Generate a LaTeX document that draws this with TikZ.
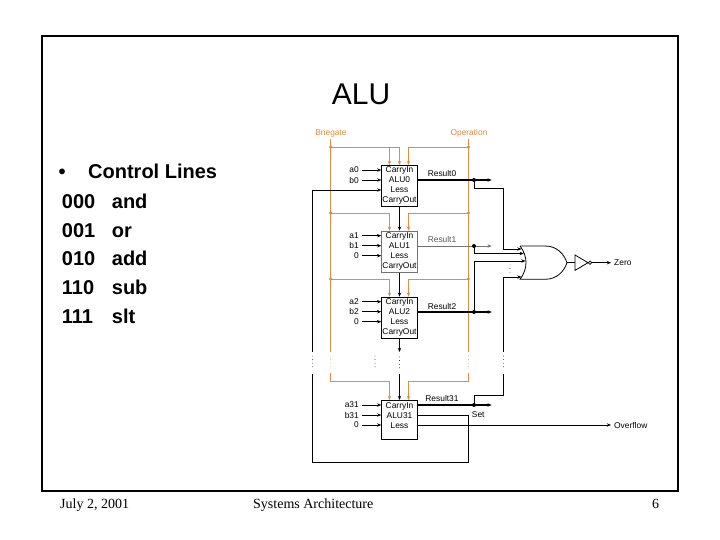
\documentclass[tikz,border=0pt]{standalone}
\usepackage{fontspec}
\setmainfont{Liberation Sans}
\newfontfamily\seriffont{Liberation Serif}
\usetikzlibrary{arrows.meta}
\definecolor{ctrl}{RGB}{222,142,62}
\begin{document}
\begin{tikzpicture}[x=1pt,y=-1pt,
  lbl/.style={font=\fontsize{8.4}{10}\selectfont, inner sep=0pt},
  ctl/.style={draw=ctrl, line width=0.8pt},
  wire/.style={line width=0.75pt},
  rwire/.style={line width=1.1pt},
  arr/.style={-{Stealth[length=4.2pt,width=3.4pt]}},
  alubox/.style={draw, line width=0.9pt, minimum width=35.6pt, minimum height=41pt, inner sep=0pt, anchor=north},
  jdot/.style={circle, fill=black, draw=none, inner sep=0pt, minimum size=4pt},
  dts/.style={line width=0.9pt, dash pattern=on 0pt off 3.6pt, line cap=round},
  big/.style={font=\fontsize{20}{24}\selectfont\bfseries, inner sep=0pt, anchor=base west},
  foot/.style={font=\seriffont\fontsize{14}{14}\selectfont, inner sep=0pt, anchor=base west}]
\useasboundingbox (0,0) rectangle (720,540);
\fill[white] (0,0) rectangle (720,540);
\draw[line width=2.3pt] (41.7,36) rectangle (678,491);

% title and text
\node[font=\fontsize{30}{30}\selectfont, anchor=base, inner sep=0pt] (title) at (361,105) {ALU};
\node[big] (bul) at (58.5,178.3) {•};
\node[big] (cl) at (88,178.3) {Control Lines};
\foreach \i/\c/\o in {0/000/and,1/001/or,2/010/add,3/110/sub,4/111/slt}{
  \node[big] (code\i) at (61.7,208.3+28.7*\i) {\c};
  \node[big] (op\i) at (111.7,208.3+28.7*\i) {\o};
}

% footer
\node[foot] (date) at (60,508) {July 2, 2001};
\node[foot] (course) at (253,508) {Systems Architecture};
\node[foot] (page) at (652,508) {6};

% ALU boxes
\node[alubox] (alu0) at (399.5,165) {};
\node[alubox, draw=black!55] (alu1) at (399.5,230.7) {};
\node[alubox] (alu2) at (399.5,296.7) {};
\node[alubox, minimum height=39.3pt] (alu31) at (399.5,400) {};
\foreach \b/\t/\nm in {alu0/165/ALU0,alu1/230.7/ALU1,alu2/296.7/ALU2,alu31/400/ALU31}{
  \node[lbl,anchor=base] (\b-l1) at (399.5,\t+8) {CarryIn};
  \node[lbl,anchor=base] (\b-l2) at (399.5,\t+18) {\nm};
  \node[lbl,anchor=base] (\b-l3) at (399.5,\t+28) {Less};
}
\foreach \b/\t in {alu0/165,alu1/230.7,alu2/296.7}{
  \node[lbl,anchor=base] (\b-l4) at (399.5,\t+38) {CarryOut};
}

% inputs
\foreach \b/\t/\la/\lb in {alu0/165/a0/b0,alu1/230.7/a1/b1,alu2/296.7/a2/b2,alu31/400/a31/b31}{
  \node[lbl,anchor=east] (\b-ia) at (359,\t+5) {\la};
  \node[lbl,anchor=east] (\b-ib) at (359,\t+15) {\lb};
  \draw[wire,arr] ([xshift=2.7pt]\b-ia.east) -- (\b-ia.east -| \b.west);
  \draw[wire,arr] ([xshift=2.7pt]\b-ib.east) -- (\b-ib.east -| \b.west);
}
\foreach \b/\t in {alu1/230.7,alu2/296.7,alu31/400}{
  \node[lbl,anchor=east] (\b-ic) at (359,\t+25) {0};
  \draw[wire,arr] ([xshift=2.7pt]\b-ic.east) -- (\b-ic.east -| \b.west);
}

% control lines (orange)
\node[lbl, text=ctrl, anchor=base] (bneg) at (331,136) {Bnegate};
\node[lbl, text=ctrl, anchor=base] (oper) at (469,136) {Operation};
\draw[ctl] (330.7,139) -- (330.7,352);
\draw[ctl] (468.3,139) -- (468.3,352);
\draw[ctl,arr] (330.7,147) -- (399.5,147) -- (alu0.north);
\draw[ctl,arr] (389.5,147) -- (389.5,165);
\draw[ctl,arr] (468.3,147) -- (408.5,147) -- (408.5,165);
\draw[ctl,arr] (330.7,213) -- (389.5,213) -- (389.5,230.7);
\draw[ctl,arr] (468.3,213) -- (408.5,213) -- (408.5,230.7);
\draw[ctl,arr] (330.7,279) -- (389.5,279) -- (389.5,296.7);
\draw[ctl,arr] (468.3,279) -- (408.5,279) -- (408.5,296.7);
\draw[ctl,arr] (330.7,373) -- (330.7,381.7) -- (389.5,381.7) -- (389.5,400);
\draw[ctl,arr] (468.3,373) -- (468.3,381.7) -- (408.5,381.7) -- (408.5,400);
\draw[dts,ctrl] (330.7,356) -- (330.7,370);
\draw[dts,ctrl] (468.3,356) -- (468.3,370);
\foreach \x in {330.7,468.3}{
  \foreach \y in {147,213,279}{
    \fill[ctrl] (\x,\y) circle (1.8);
  }
}

% carry chain
\draw[wire,arr] (alu0.south) -- (alu1.north);
\draw[wire,arr] (alu1.south) -- (alu2.north);
\draw[wire,arr] (alu2.south) -- (399.5,352);
\draw[dts] (399.5,357) -- (399.5,370);
\draw[wire,arr] (399.5,374) -- (alu31.north);
\draw[dts] (375,356) -- (375,370);

% Less / Set loop
\draw[wire,arr] (312.7,352) -- (312.7,190) -- (alu0.west |- 0,190);
\draw[dts] (312.7,356) -- (312.7,370);
\draw[wire] (alu31.east |- 0,415) -- (468.3,415) -- (468.3,462) -- (312.7,462) -- (312.7,374);
\node[lbl, anchor=west] (set) at (471.7,415) {Set};

% results
\draw[rwire,arr] (alu0.east |- 0,180) -- (491.7,180);
\node[lbl,anchor=base] (res0) at (442,177) {Result0};
\node[jdot] (r0d) at (474,180) {};
\draw[wire,arr] (r0d.center) -- (474,188) -- (503.3,188) -- (503.3,249) -- (521.5,249);

\draw[wire,black!55,arr] (alu1.east |- 0,246) -- (491.7,246);
\node[lbl,anchor=base,text=black!65] (res1) at (442,243) {Result1};
\node[jdot] (r1d) at (474,246) {};
\draw[wire,arr] (r1d.center) -- (474,253.5) -- (523.8,253.5);

\draw[rwire,arr] (alu2.east |- 0,312) -- (491.7,312);
\node[lbl,anchor=base] (res2) at (442,309) {Result2};
\node[jdot] (r2d) at (474,312) {};
\draw[wire,arr] (r2d.center) -- (474,261) -- (525.5,261);

\draw[rwire,arr] (alu31.east |- 0,405) -- (491.7,405);
\node[lbl,anchor=base] (res31) at (442,401) {Result31};
\node[jdot] (r31d) at (474,405) {};
\draw[wire] (r31d.center) -- (474,395) -- (503.3,395) -- (503.3,374);
\draw[dts] (503.3,356) -- (503.3,370);
\draw[wire,arr] (503.3,352) -- (503.3,277) -- (521.5,277);
\draw[dts] (510,265) -- (510,274);

% overflow
\draw[wire,arr] (alu31.east |- 0,425) -- (611,425);
\node[lbl,anchor=west] (ovf) at (614,425) {Overflow};

% OR gate and inverter
\draw[line width=0.8pt] (520,246) -- (545,246) .. controls (557,246) and (564,254) .. (567,262.7)
  .. controls (564,271.4) and (557,279.3) .. (545,279.3) -- (520,279.3)
  .. controls (528,269) and (528,256.3) .. (520,246);
\draw[wire] (567,262.7) -- (575,262.7);
\draw[line width=0.8pt] (575,255) -- (588,262.7) -- (575,270.4) -- cycle;
\draw[line width=0.7pt] (590,262.7) circle (1.7);
\draw[wire,arr] (591.7,262.7) -- (611,262.7);
\node[lbl,anchor=west] (zero) at (614,263) {Zero};
\end{tikzpicture}
\end{document}
